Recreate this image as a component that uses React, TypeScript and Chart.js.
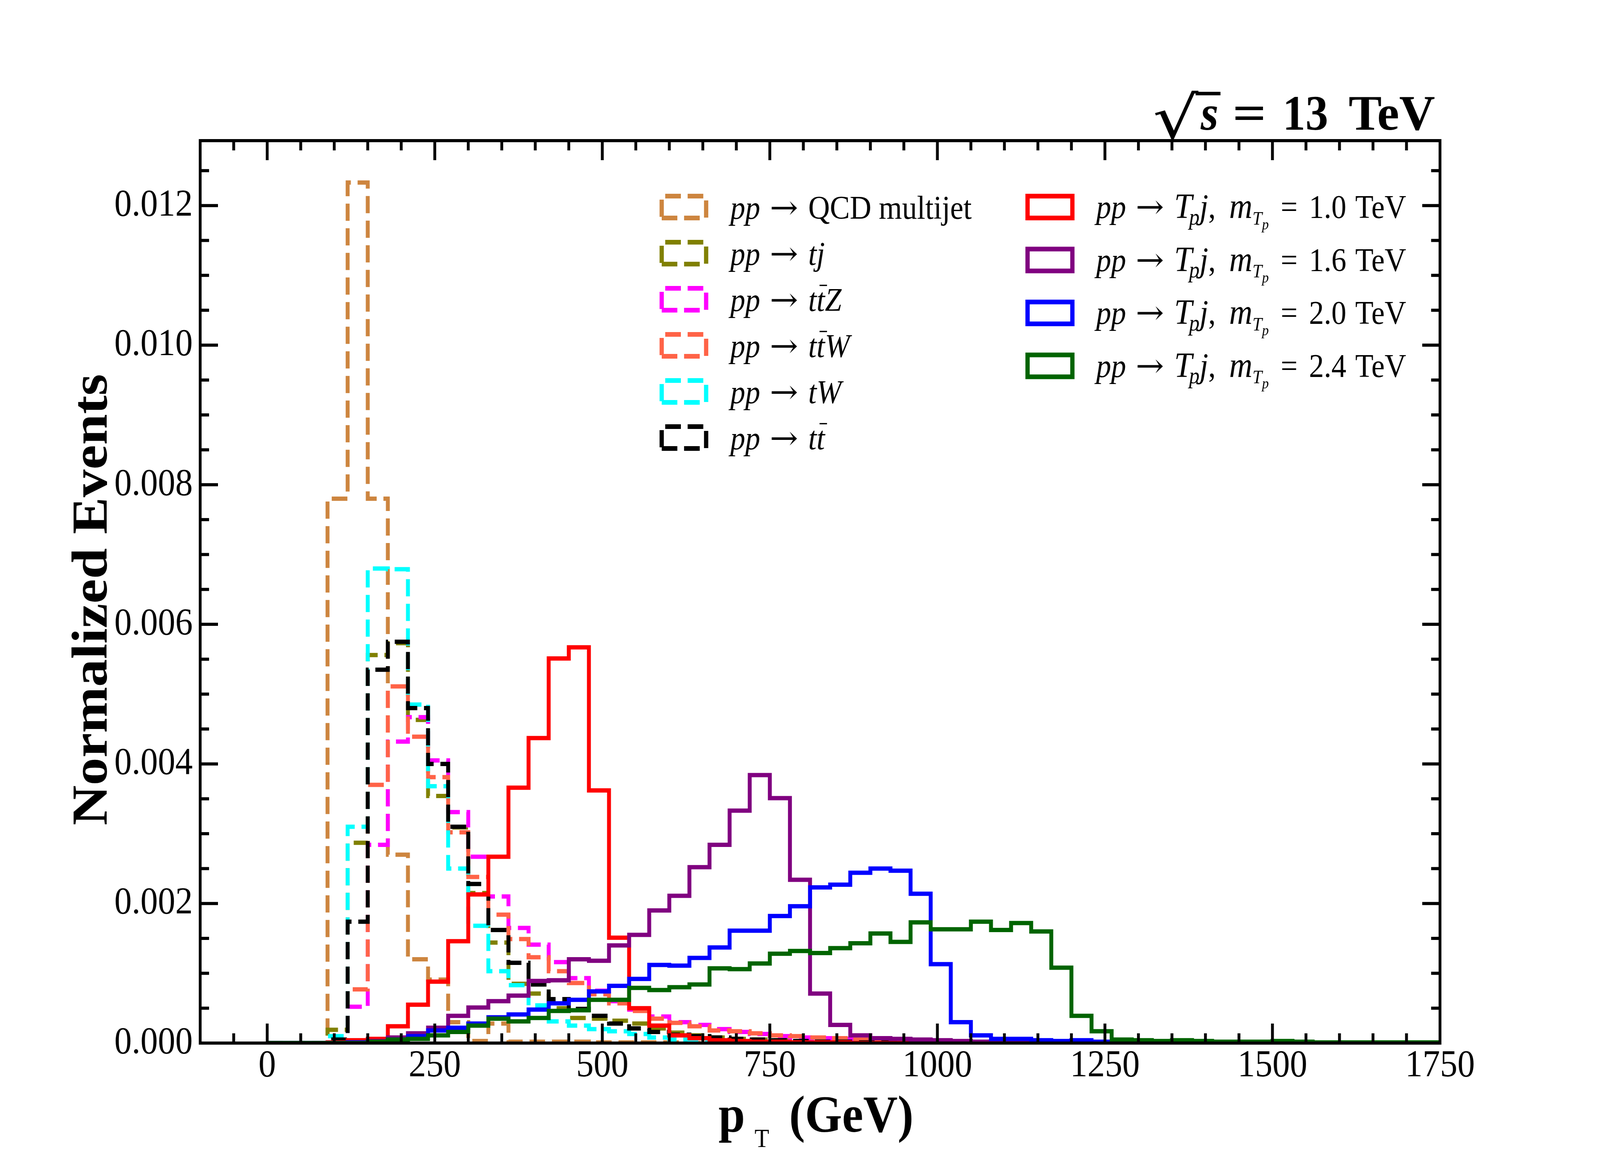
import React, { useEffect, useRef } from 'react';
import { Chart, registerables } from 'chart.js';

Chart.register(...registerables);

// bin edges of the pT histograms (GeV)
const binEdges = [
  0, 30, 60, 90, 120, 150, 180, 210, 240, 270,
  300, 330, 360, 390, 420, 450, 480, 510, 540, 570,
  600, 630, 660, 690, 720, 750, 780, 810, 840, 870,
  900, 930, 960, 990, 1020, 1050, 1080, 1110, 1140, 1170,
  1200, 1230, 1260, 1290, 1320, 1350, 1380, 1410, 1440, 1470,
  1500, 1530, 1560, 1590, 1620, 1650, 1680, 1710, 1740, 1770,
];

// normalized events per bin
const qcdMultijet = [
  0, 0, 0, 0.0078, 0.01233, 0.0078, 0.0027, 0.0012, 0.00091, 0.0003,
  0.00003, 0.00028, 0.00002, 0.00002, 0.00002, 0.00002, 0.00001, 0.00001, 0.00001, 0.00001,
  0.00001, 0, 0, 0, 0, 0, 0, 0, 0, 0,
  0, 0, 0, 0, 0, 0, 0, 0, 0, 0,
  0, 0, 0, 0, 0, 0, 0, 0, 0, 0,
  0, 0, 0, 0, 0, 0, 0, 0, 0,
];
const tj = [
  0, 0, 0, 0.00019, 0.00287, 0.00556, 0.00573, 0.00463, 0.00354, 0.00309,
  0.00215, 0.00144, 0.00085, 0.00071, 0.0005, 0.00036, 0.00035, 0.00032, 0.00028, 0.00021,
  0.00015, 0.00011, 0.00008, 0.00006, 0.00005, 0.00004, 0.00003, 0.00002, 0.00002, 0.00001,
  0.00001, 0.00001, 0, 0, 0, 0, 0, 0, 0, 0,
  0, 0, 0, 0, 0, 0, 0, 0, 0, 0,
  0, 0, 0, 0, 0, 0, 0, 0, 0,
];
const ttZ = [
  0, 0, 0, 0, 0.00052, 0.00284, 0.00432, 0.00467, 0.00405, 0.00331,
  0.00267, 0.0021, 0.00165, 0.00141, 0.00116, 0.00093, 0.00075, 0.0006, 0.00048, 0.00038,
  0.0003, 0.00026, 0.0002, 0.00016, 0.00013, 0.0001, 0.00008, 0.00007, 0.00006, 0.00005,
  0.00004, 0.00003, 0.00003, 0.00002, 0.00002, 0.00001, 0.00001, 0.00001, 0, 0,
  0, 0, 0, 0, 0, 0, 0, 0, 0, 0,
  0, 0, 0, 0, 0, 0, 0, 0, 0,
];
const ttW = [
  0, 0, 0, 0, 0.00077, 0.0037, 0.00511, 0.00439, 0.00381, 0.00302,
  0.00238, 0.00184, 0.00149, 0.00123, 0.00103, 0.00086, 0.0007, 0.00057, 0.00046, 0.00035,
  0.00029, 0.00024, 0.00018, 0.00017, 0.00014, 0.00011, 0.0001, 0.00008, 0.00007, 0.00005,
  0.00004, 0.00004, 0.00003, 0.00002, 0.00002, 0.00001, 0.00001, 0.00001, 0, 0,
  0, 0, 0, 0, 0, 0, 0, 0, 0, 0,
  0, 0, 0, 0, 0, 0, 0, 0, 0,
];
const tW = [
  0, 0, 0, 0.0001, 0.0031, 0.0068, 0.00679, 0.00485, 0.00368, 0.0025,
  0.00168, 0.00103, 0.00083, 0.00054, 0.00031, 0.00025, 0.0002, 0.00017, 0.00013, 0.00008,
  0.00005, 0.00004, 0.00003, 0.00002, 0.00002, 0.00001, 0.00001, 0, 0, 0,
  0, 0, 0, 0, 0, 0, 0, 0, 0, 0,
  0, 0, 0, 0, 0, 0, 0, 0, 0, 0,
  0, 0, 0, 0, 0, 0, 0, 0, 0,
];
const ttbar = [
  0, 0, 0, 0.00005, 0.00174, 0.00535, 0.00575, 0.0048, 0.004, 0.0031,
  0.00228, 0.00162, 0.00115, 0.00084, 0.00063, 0.00049, 0.00039, 0.00028, 0.00021, 0.00016,
  0.00012, 0.0001, 0.00008, 0.00006, 0.00005, 0.00004, 0.00003, 0.00002, 0.00002, 0.00001,
  0.00001, 0.00001, 0, 0, 0, 0, 0, 0, 0, 0,
  0, 0, 0, 0, 0, 0, 0, 0, 0, 0,
  0, 0, 0, 0, 0, 0, 0, 0, 0,
];
const tp1000 = [
  0, 0, 0, 0.00001, 0.00004, 0.00006, 0.00024, 0.00055, 0.00088, 0.00146,
  0.00213, 0.00267, 0.00366, 0.00437, 0.00551, 0.00567, 0.00362, 0.00151, 0.0005, 0.00025,
  0.00011, 0.00007, 0.00004, 0.00003, 0.00002, 0.00002, 0.00001, 0.00001, 0.00001, 0,
  0, 0, 0, 0, 0, 0, 0, 0, 0, 0,
  0, 0, 0, 0, 0, 0, 0, 0, 0, 0,
  0, 0, 0, 0, 0, 0, 0, 0, 0,
];
const tp1600 = [
  0, 0, 0, 0, 0.00001, 0.00003, 0.00008, 0.00014, 0.00022, 0.00039,
  0.00051, 0.0006, 0.00068, 0.00089, 0.0009, 0.0012, 0.00118, 0.0014, 0.00155, 0.0019,
  0.00211, 0.00252, 0.00284, 0.00333, 0.00384, 0.00351, 0.00234, 0.00071, 0.00026, 0.00011,
  0.00007, 0.00006, 0.00005, 0.00004, 0.00003, 0.00002, 0.00002, 0.00001, 0.00001, 0.00001,
  0.00001, 0, 0, 0, 0, 0, 0, 0, 0, 0,
  0, 0, 0, 0, 0, 0, 0, 0, 0,
];
const tp2000 = [
  0, 0, 0, 0, 0.00001, 0.00002, 0.00005, 0.0001, 0.00018, 0.00022,
  0.00028, 0.00037, 0.00041, 0.00048, 0.00057, 0.00062, 0.00074, 0.00082, 0.00092, 0.00112,
  0.00111, 0.00122, 0.00137, 0.00161, 0.00161, 0.00182, 0.00196, 0.00223, 0.00227, 0.00244,
  0.0025, 0.00247, 0.00214, 0.00113, 0.0003, 0.00011, 0.00006, 0.00006, 0.00004, 0.00003,
  0.00004, 0.00002, 0.00001, 0.00001, 0.00001, 0.00001, 0, 0, 0, 0,
  0, 0, 0, 0, 0, 0, 0, 0, 0,
];
const tp2400 = [
  0, 0, 0, 0, 0, 0.00002, 0.00005, 0.00006, 0.00011, 0.00016,
  0.00025, 0.00035, 0.00031, 0.00036, 0.00046, 0.00047, 0.00062, 0.00062, 0.00079, 0.00076,
  0.0008, 0.00084, 0.00107, 0.00106, 0.00114, 0.00128, 0.00132, 0.00129, 0.00136, 0.00143,
  0.00157, 0.00145, 0.00173, 0.00163, 0.00163, 0.00174, 0.00162, 0.00172, 0.0016, 0.00108,
  0.00039, 0.00017, 0.00005, 0.00004, 0.00003, 0.00004, 0.00003, 0.00002, 0.00002, 0.00002,
  0.00003, 0.00002, 0.00001, 0.00001, 0.00001, 0.00001, 0.00001, 0.00001, 0.00001,
];

const xTickValues = [0, 250, 500, 750, 1000, 1250, 1500, 1750];
const yTickValues = [0, 0.002, 0.004, 0.006, 0.008, 0.01, 0.012];
const signalMasses = ['1.0', '1.6', '2.0', '2.4'];

const W = 4500;
const H = 3000;
const PLOT = { left: 563, top: 360, right: 4050, bottom: 2670 };
const SERIF = '"Liberation Serif", "DejaVu Serif", serif';
const SYMBOL_FONT = '"DejaVu Serif", "Liberation Serif", serif';
const LW = 11;
const DASH = [44, 19];

// one piece of a math-like label; gap is extra space before it (em), sx a horizontal stretch
type Seg = { t: string; it?: boolean; bf?: boolean; s?: number; dy?: number; bar?: boolean; gap?: number; sx?: number; sym?: boolean };

const pp: Seg[] = [{ t: 'pp', it: true }, { t: '\u2192', sym: true, gap: 0.32 }];

const backgrounds = [
  { values: qcdMultijet, color: '#CD853F', label: [...pp, { t: 'QCD multijet', gap: 0.34 }] },
  { values: tj, color: '#808000', label: [...pp, { t: 'tj', it: true, gap: 0.34 }] },
  { values: ttZ, color: '#FF00FF', label: [...pp, { t: 't', it: true, gap: 0.34 }, { t: 't', it: true, bar: true }, { t: 'Z', it: true }] },
  { values: ttW, color: '#FF6347', label: [...pp, { t: 't', it: true, gap: 0.34 }, { t: 't', it: true, bar: true }, { t: 'W', it: true }] },
  { values: tW, color: '#00FFFF', label: [...pp, { t: 'tW', it: true, gap: 0.34 }] },
  { values: ttbar, color: '#000000', label: [...pp, { t: 't', it: true, gap: 0.34 }, { t: 't', it: true, bar: true }] },
];

const signalColors = ['#FF0000', '#800080', '#0000FF', '#006400'];
const signals = [tp1000, tp1600, tp2000, tp2400].map((values, i) => ({
  values,
  color: signalColors[i],
  label: [
    ...pp,
    { t: 'T', it: true, gap: 0.34, s: 1.08 },
    { t: 'p', it: true, s: 0.7, dy: 0.2, gap: -0.1 },
    { t: 'j', it: true, s: 1.05 },
    { t: ',' },
    { t: 'm', it: true, gap: 0.45, s: 1.08 },
    { t: 'T', it: true, s: 0.58, dy: 0.2 },
    { t: 'p', it: true, s: 0.45, dy: 0.35 },
    { t: '=', gap: 0.4 },
    { t: signalMasses[i], gap: 0.38 },
    { t: 'TeV', gap: 0.3 },
  ] as Seg[],
}));

const histPoints = (values: number[]) => [
  { x: binEdges[0], y: 0 },
  ...values.map((v, i) => ({ x: binEdges[i], y: v })),
  { x: binEdges[values.length], y: 0 },
];

function segFont(g: Seg, size: number) {
  const fs = size * (g.s ?? 1);
  return `${g.it ? 'italic ' : ''}${g.bf ? 'bold ' : ''}${fs}px ${g.sym ? SYMBOL_FONT : SERIF}`;
}

// advance width of a segment; arrows are stretched to 0.95 em like the TeX one
function segWidth(ctx: CanvasRenderingContext2D, g: Seg, size: number) {
  const fs = size * (g.s ?? 1);
  ctx.font = segFont(g, size);
  if (g.sym && g.t === '\u2192') return 0.95 * fs;
  return ctx.measureText(g.t).width * (g.sx ?? 1);
}

function richWidth(ctx: CanvasRenderingContext2D, segs: Seg[], size: number) {
  let w = 0;
  for (const g of segs) w += (g.gap ?? 0) * size + segWidth(ctx, g, size);
  return w;
}

function drawRich(ctx: CanvasRenderingContext2D, segs: Seg[], x: number, y: number, size: number) {
  let cx = x;
  for (const g of segs) {
    const fs = size * (g.s ?? 1);
    cx += (g.gap ?? 0) * size;
    const w = segWidth(ctx, g, size);
    const raw = ctx.measureText(g.t).width;
    ctx.save();
    ctx.translate(cx, y + (g.dy ?? 0) * size);
    ctx.scale(w / raw, 1);
    ctx.fillText(g.t, 0, 0);
    ctx.restore();
    if (g.bar) ctx.fillRect(cx + 0.1 * fs, y - 0.8 * fs, w * 0.9, 0.04 * fs);
    cx += w;
  }
  return cx - x;
}

const decorations = {
  id: 'decorations',
  afterDatasetsDraw(chart: Chart) {
    const { ctx, chartArea: a } = chart;
    const xs = chart.scales.x;
    const ys = chart.scales.y;
    ctx.save();
    ctx.fillStyle = '#000';
    ctx.strokeStyle = '#000';
    ctx.lineWidth = 8;
    ctx.setLineDash([]);
    ctx.strokeRect(a.left, a.top, a.right - a.left, a.bottom - a.top);
    const line = (x1: number, y1: number, x2: number, y2: number) => {
      ctx.beginPath();
      ctx.moveTo(x1, y1);
      ctx.lineTo(x2, y2);
      ctx.stroke();
    };
    for (let v = -100; v <= 1750; v += 50) {
      const px = xs.getPixelForValue(v);
      const len = v % 250 === 0 ? 50 : 25;
      line(px, a.bottom, px, a.bottom - len);
      line(px, a.top, px, a.top + len);
    }
    for (let i = 0; i <= 25; i++) {
      const py = ys.getPixelForValue(i * 0.0005);
      if (py < a.top) continue;
      const len = i % 4 === 0 ? 50 : 25;
      line(a.left, py, a.left + len, py);
      line(a.right, py, a.right - len, py);
    }
    ctx.restore();
  },
  afterDraw(chart: Chart) {
    const { ctx } = chart;
    ctx.save();
    ctx.fillStyle = '#000';
    ctx.textBaseline = 'alphabetic';
    ctx.textAlign = 'left';

    // legend, left column (backgrounds)
    ctx.lineWidth = 12;
    backgrounds.forEach((b, i) => {
      const cy = 530 + i * 118;
      ctx.strokeStyle = b.color;
      ctx.setLineDash(DASH);
      ctx.beginPath();
      ctx.moveTo(1861, cy + 28);
      ctx.lineTo(1986, cy + 28);
      ctx.lineTo(1986, cy - 28);
      ctx.lineTo(1861, cy - 28);
      ctx.closePath();
      ctx.stroke();
      ctx.setLineDash([]);
      drawRich(ctx, b.label, 2054, cy + 30, 84);
    });
    // legend, right column (signals)
    signals.forEach((s, i) => {
      const cy = 530 + i * 135.5;
      ctx.strokeStyle = s.color;
      ctx.setLineDash([]);
      ctx.strokeRect(2890, cy - 28, 126, 56);
      drawRich(ctx, s.label, 3083, cy + 28, 84);
    });

    // energy label
    const base = 332;
    const size = 128;
    const root: Seg = { t: '\u221A', sym: true, s: 150 / 128, sx: 1.34 };
    const title: Seg[] = [
      { t: 's', it: true, bf: true, gap: 0.05 },
      { t: '=', bf: true, gap: 0.31, sx: 1.3 },
      { t: '13', bf: true, gap: 0.36 },
      { t: 'TeV', bf: true, gap: 0.45, sx: 1.09 },
    ];
    const rootW = segWidth(ctx, root, size);
    const restW = richWidth(ctx, title, size);
    const x0 = 4036 - restW - rootW;
    drawRich(ctx, [root], x0, base + 22, size);
    ctx.font = `italic bold ${size}px ${SERIF}`;
    const sW = ctx.measureText('s').width;
    ctx.fillRect(x0 + rootW - 8, 235, sW + 20, 9);
    drawRich(ctx, title, x0 + rootW, base, size);

    // x axis title
    const xt: Seg[] = [{ t: 'p', bf: true }, { t: 'T', s: 0.5, dy: 0.29, gap: 0.2 }, { t: '(GeV)', bf: true, gap: 0.42 }];
    const xtw = richWidth(ctx, xt, 134);
    drawRich(ctx, xt, 2295 - xtw / 2, 2897, 134);

    // y axis title
    ctx.translate(300, 1535);
    ctx.rotate(-Math.PI / 2);
    ctx.textAlign = 'center';
    ctx.font = `bold 142px ${SERIF}`;
    ctx.fillText('Normalized Events', 0, 0);
    ctx.restore();
  },
};

const App: React.FC = () => {
  const canvasRef = useRef<HTMLCanvasElement>(null);
  const chartRef = useRef<Chart | null>(null);

  useEffect(() => {
    document.body.style.margin = '0';
    document.body.style.overflow = 'hidden';
    if (!canvasRef.current) return;
    if (chartRef.current) chartRef.current.destroy();

    const all = [...backgrounds.map((b) => ({ ...b, dashed: true })), ...signals.map((s) => ({ ...s, dashed: false }))];
    const tickFont = { family: SERIF, size: 98, lineHeight: 1 };

    chartRef.current = new Chart(canvasRef.current, {
      type: 'line',
      data: {
        datasets: all.map((d, i) => ({
          data: histPoints(d.values),
          borderColor: d.color,
          borderWidth: LW,
          borderDash: d.dashed ? DASH : [],
          borderJoinStyle: 'miter' as const,
          borderCapStyle: 'butt' as const,
          stepped: true,
          pointRadius: 0,
          fill: false,
          order: all.length - 1 - i,
        })),
      },
      options: {
        responsive: false,
        devicePixelRatio: 1,
        animation: false,
        events: [],
        layout: { padding: { left: 0, top: PLOT.top, right: W - PLOT.right, bottom: 0 } },
        plugins: {
          legend: { display: false },
          tooltip: { enabled: false },
          title: { display: false },
        },
        scales: {
          x: {
            type: 'linear',
            min: -100,
            max: 1750,
            grid: { display: false, drawTicks: false },
            border: { display: false },
            ticks: {
              font: tickFont,
              color: '#000',
              padding: 10,
              maxRotation: 0,
              autoSkip: false,
              callback: (v) => String(v),
            },
            afterBuildTicks: (s) => {
              s.ticks = xTickValues.map((v) => ({ value: v }));
            },
            afterFit: (s) => {
              s.height = H - PLOT.bottom;
            },
          },
          y: {
            type: 'linear',
            min: 0,
            max: 0.01293,
            grid: { display: false, drawTicks: false },
            border: { display: false },
            ticks: {
              font: tickFont,
              color: '#000',
              padding: 21,
              autoSkip: false,
              callback: (v) => Number(v).toFixed(3),
            },
            afterBuildTicks: (s) => {
              s.ticks = yTickValues.map((v) => ({ value: v }));
            },
            afterFit: (s) => {
              s.width = PLOT.left;
            },
          },
        },
      },
      plugins: [decorations],
    });

    return () => {
      if (chartRef.current) {
        chartRef.current.destroy();
        chartRef.current = null;
      }
    };
  }, []);

  // the bitmap is always 4500x3000; CSS stretches it over the whole window
  return (
    <div style={{ width: '100vw', height: '100vh', background: '#fff' }}>
      <canvas ref={canvasRef} width={W} height={H} style={{ display: 'block', width: '100vw', height: '100vh' }} />
    </div>
  );
};

export default App;
